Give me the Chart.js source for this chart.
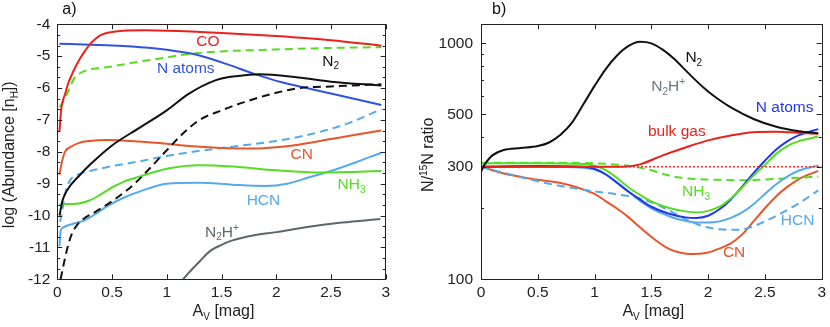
<!DOCTYPE html>
<html>
<head>
<meta charset="utf-8">
<script src="https://cdn.jsdelivr.net/npm/chart.js@4.4.0/dist/chart.umd.min.js"></script>
<style>
    html, body { margin: 0; padding: 0; background: #fff; }
    #wrap { position: relative; width: 830px; height: 327px; }
    canvas { position: absolute; top: 0; }
    #chartA { left: 0; }
    #chartB { left: 415px; }
</style>
</head>
<body>
<div id="wrap">
    <canvas id="chartA" width="415" height="327"></canvas>
    <canvas id="chartB" width="415" height="327"></canvas>
</div>
<script>
const FONT = '"Liberation Sans", Arial, sans-serif';
const TICK_SIZE = 15.5;
const LABEL_SIZE = 15.5;
const TITLE_SIZE = 16;

// ---- panel a) log abundance vs A_V ----
const avCO = [0.02, 0.035, 0.05, 0.07, 0.1, 0.15, 0.2, 0.25, 0.3, 0.35, 0.4, 0.5, 0.6, 0.8, 1.0, 1.5, 2.0, 2.5, 2.96];
const logCO = [-7.35, -6.7, -6.4, -6.2, -5.85, -5.45, -5.12, -4.85, -4.62, -4.45, -4.33, -4.24, -4.2, -4.19, -4.2, -4.27, -4.37, -4.5, -4.67];

const avNatA = [0.02, 0.3, 0.6, 0.9, 1.1, 1.3, 1.55, 1.82, 2.05, 2.28, 2.6, 2.96];
const logNatA = [-4.61, -4.64, -4.68, -4.76, -4.85, -4.98, -5.25, -5.58, -5.82, -6.0, -6.25, -6.53];

const avNH3iceA = [0.02, 0.05, 0.1, 0.15, 0.2, 0.3, 0.5, 0.75, 1.0, 1.2, 1.5, 2.0, 2.5, 2.96];
const logNH3iceA = [-6.6, -6.45, -6.1, -5.72, -5.55, -5.42, -5.32, -5.17, -5.04, -4.93, -4.85, -4.79, -4.74, -4.72];

const avN2A = [0.02, 0.05, 0.1, 0.2, 0.3, 0.5, 0.75, 1.0, 1.2, 1.45, 1.65, 1.85, 2.2, 2.5, 2.96];
const logN2A = [-10.0, -9.5, -9.15, -8.75, -8.4, -7.8, -7.25, -6.7, -6.18, -5.75, -5.62, -5.57, -5.67, -5.8, -5.92];

const avN2iceA = [0.03, 0.06, 0.09, 0.13, 0.18, 0.25, 0.33, 0.5, 0.6, 0.7, 0.85, 1.0, 1.15, 1.3, 1.5, 1.7, 2.0, 2.22, 2.5, 2.96];
const logN2iceA = [-12.0, -11.5, -11.05, -10.6, -10.3, -10.08, -9.92, -9.55, -9.3, -9.02, -8.5, -7.95, -7.42, -7.0, -6.7, -6.45, -6.15, -6.0, -5.95, -5.88];

const avCNA = [0.02, 0.04, 0.07, 0.12, 0.2, 0.3, 0.45, 0.75, 1.0, 1.2, 1.5, 1.8, 2.0, 2.2, 2.5, 2.75, 2.96];
const logCNA = [-8.72, -8.35, -8.0, -7.85, -7.72, -7.66, -7.63, -7.68, -7.75, -7.82, -7.88, -7.9, -7.86, -7.78, -7.6, -7.45, -7.33];

const avHCNiceA = [0.025, 0.05, 0.08, 0.12, 0.2, 0.3, 0.5, 0.75, 1.0, 1.3, 1.6, 2.0, 2.22, 2.5, 2.7, 2.96];
const logHCNiceA = [-10.2, -9.75, -9.2, -8.88, -8.7, -8.6, -8.45, -8.3, -8.13, -7.97, -7.84, -7.66, -7.52, -7.28, -7.05, -6.66];

const avNH3A = [0.02, 0.1, 0.2, 0.3, 0.4, 0.5, 0.6, 0.75, 1.0, 1.3, 1.6, 2.0, 2.4, 2.7, 2.96];
const logNH3A = [-9.65, -9.64, -9.62, -9.52, -9.33, -9.12, -8.95, -8.78, -8.53, -8.42, -8.46, -8.58, -8.65, -8.63, -8.6];

const avHCNA = [0.02, 0.03, 0.05, 0.15, 0.25, 0.35, 0.45, 0.6, 0.75, 1.0, 1.3, 1.6, 1.9, 2.1, 2.3, 2.5, 2.75, 2.96];
const logHCNA = [-10.97, -10.5, -10.38, -10.25, -10.15, -9.95, -9.72, -9.45, -9.25, -9.0, -8.97, -9.03, -9.07, -9.0, -8.8, -8.6, -8.3, -8.03];

const avN2HpA = [1.12, 1.2, 1.3, 1.4, 1.5, 1.6, 1.8, 2.0, 2.3, 2.6, 2.95];
const logN2HpA = [-12.12, -11.8, -11.44, -11.1, -10.92, -10.78, -10.62, -10.52, -10.35, -10.22, -10.11];

// ---- panel b) N/15N ratio vs A_V ----
const avN2B = [0, 0.02, 0.05, 0.1, 0.2, 0.35, 0.5, 0.6, 0.7, 0.8, 0.9, 1.0, 1.1, 1.2, 1.3, 1.4, 1.5, 1.6, 1.7, 1.8, 1.9, 2.0, 2.1, 2.2, 2.4, 2.6, 2.8, 2.97];
const ratioN2B = [285, 300, 315, 335, 353, 360, 367, 380, 410, 460, 550, 660, 780, 890, 975, 1015, 1000, 940, 860, 770, 690, 625, 575, 535, 478, 443, 424, 416];

const avBulk = [0, 0.5, 1.0, 1.25, 1.4, 1.6, 1.8, 2.0, 2.2, 2.4, 2.6, 2.8, 2.97];
const ratioBulk = [300, 300, 300, 300, 307, 335, 362, 388, 407, 420, 422, 418, 413];

const avRef = [0, 3];
const ratioRef = [300, 300];

const avIso = [0, 0.5, 0.9, 1.0, 1.1, 1.2, 1.3, 1.4, 1.5, 1.65, 1.8, 1.9, 2.0, 2.1, 2.2, 2.3, 2.4, 2.5, 2.6, 2.7, 2.8, 2.97];
const ratioNatB = [300, 302, 300, 294, 278, 256, 235, 218, 203, 190, 183, 182, 186, 198, 218, 247, 282, 318, 355, 385, 408, 433];
const ratioNH3B = [310, 310, 308, 303, 290, 268, 245, 228, 214, 201, 194, 192, 195, 203, 220, 245, 275, 305, 340, 368, 385, 403];

const avHCNB = [0, 0.5, 0.9, 1.0, 1.1, 1.2, 1.3, 1.4, 1.5, 1.6, 1.7, 1.8, 1.9, 2.0, 2.1, 2.2, 2.3, 2.4, 2.5, 2.6, 2.7, 2.8, 2.97];
const ratioHCNB = [300, 300, 297, 292, 278, 257, 235, 215, 200, 190, 182, 177, 174, 174, 176, 182, 192, 208, 230, 253, 273, 289, 304];

const avHCNiceB = [0, 0.1, 0.25, 0.5, 0.75, 1.0, 1.2, 1.4, 1.6, 1.8, 1.95, 2.1, 2.27, 2.4, 2.5, 2.62, 2.8, 2.97];
const ratioHCNiceB = [300, 291, 279, 260, 246, 236, 229, 220, 202, 180, 168, 163, 162, 168, 176, 188, 210, 238];

const avCNB = [0, 0.1, 0.2, 0.35, 0.5, 0.7, 0.85, 1.0, 1.1, 1.2, 1.3, 1.42, 1.55, 1.65, 1.75, 1.86, 2.0, 2.1, 2.2, 2.3, 2.4, 2.5, 2.6, 2.7, 2.8, 2.97];
const ratioCNB = [300, 290, 281, 272, 264, 256, 245, 230, 214, 199, 183, 163, 145, 135, 130, 128, 130, 135, 142, 155, 176, 200, 225, 247, 266, 288];

const avNH3iceB = [0, 0.5, 1.0, 1.2, 1.35, 1.5, 1.62, 1.75, 1.9, 2.1, 2.3, 2.5, 2.7, 2.97];
const ratioNH3iceB = [312, 312, 310, 306, 300, 290, 278, 270, 266, 264, 263, 265, 268, 272];

// ---- ticks ----
const xTicks = [0, 0.5, 1, 1.5, 2, 2.5, 3];
const yTicksA = [-12, -11, -10, -9, -8, -7, -6, -5, -4];
const yTicksB = [100, 200, 300, 400, 500, 600, 700, 800, 900, 1000];
const yLabelsB = [100, 300, 500, 1000];

// colours
const RED = '#e8231c', BLUE_A = '#3152e0', BLUE_B = '#2236ec', GREEN = '#55dd22',
      LBLUE = '#55aaee', ORANGE = '#e8552a', GREY = '#5d666c', BLACK = '#111111';

// in-plot labels (anchored in data units, left edge / vertical centre)
const labelsA = [
    { text: 'CO', x: 1.27, y: -4.55, color: RED },
    { text: 'N atoms', x: 0.91, y: -5.4, color: BLUE_A },
    { text: 'N_2', x: 2.42, y: -5.17, color: BLACK },
    { text: 'CN', x: 2.13, y: -8.1, color: ORANGE },
    { text: 'NH_3', x: 2.56, y: -9.04, color: GREEN },
    { text: 'HCN', x: 1.73, y: -9.54, color: LBLUE },
    { text: 'N_2H^+', x: 1.35, y: -10.54, color: GREY }
];
const labelsB = [
    { text: 'N_2', x: 1.80, y: 867, color: BLACK },
    { text: 'N_2H^+', x: 1.50, y: 653, color: '#6b7780' },
    { text: 'N atoms', x: 2.42, y: 532, color: BLUE_B },
    { text: 'bulk gas', x: 1.47, y: 421, color: RED },
    { text: 'NH_3', x: 1.77, y: 234, color: GREEN },
    { text: 'HCN', x: 2.64, y: 177, color: LBLUE },
    { text: 'CN', x: 2.13, y: 129, color: ORANGE }
];

function pts(xs, ys) {
    return xs.map((x, i) => ({ x: x, y: ys[i] }));
}

function line(xs, ys, color, dash, width) {
    return {
        data: pts(xs, ys),
        borderColor: color,
        borderDash: dash || [],
        borderWidth: width || 2,
        pointRadius: 0,
        fill: false,
        cubicInterpolationMode: 'monotone'
    };
}

// split "N_2H^+" / "N/^{15}N" into normal / sub / sup pieces
function parseRich(str) {
    const parts = [];
    let i = 0;
    while (i < str.length) {
        const c = str[i];
        if (c === '_' || c === '^') {
            let t;
            if (str[i + 1] === '{') {
                const end = str.indexOf('}', i);
                t = str.slice(i + 2, end);
                i = end + 1;
            } else {
                t = str[i + 1];
                i += 2;
            }
            parts.push({ t: t, mode: c === '_' ? 'sub' : 'sup' });
        } else {
            if (parts.length && parts[parts.length - 1].mode === 'n') parts[parts.length - 1].t += c;
            else parts.push({ t: c, mode: 'n' });
            i++;
        }
    }
    return parts;
}

function richWidth(ctx, parts, size) {
    let w = 0;
    parts.forEach(p => {
        ctx.font = (p.mode === 'n' ? size : Math.round(size * 0.62)) + 'px ' + FONT;
        w += ctx.measureText(p.t).width;
    });
    return w;
}

function drawRich(ctx, str, x, y, size, color, align) {
    const parts = parseRich(str);
    let cx = align === 'center' ? x - richWidth(ctx, parts, size) / 2 : x;
    ctx.fillStyle = color;
    ctx.textBaseline = 'middle';
    ctx.textAlign = 'left';
    parts.forEach(p => {
        let dy = 0, s = size;
        if (p.mode === 'sub') { s = Math.round(size * 0.62); dy = size * 0.32; }
        if (p.mode === 'sup') { s = Math.round(size * 0.62); dy = -size * 0.3; }
        ctx.font = s + 'px ' + FONT;
        ctx.fillText(p.t, cx, y + dy);
        cx += ctx.measureText(p.t).width;
    });
}

// frame, inward ticks, labels and axis titles
const framePlugin = {
    id: 'framePlugin',
    afterDatasetsDraw(chart, args, opts) {
        const { ctx, chartArea: a, scales } = chart;
        ctx.save();
        ctx.strokeStyle = '#222';
        ctx.lineWidth = 1;
        const seg = (x1, y1, x2, y2) => {
            ctx.beginPath();
            ctx.moveTo(x1, y1);
            ctx.lineTo(x2, y2);
            ctx.stroke();
        };
        opts.xTicks.forEach(v => {
            const x = Math.round(scales.x.getPixelForValue(v)) + 0.5;
            seg(x, a.bottom, x, a.bottom - 5);
            seg(x, a.top, x, a.top + 5);
        });
        opts.yMajor.forEach(v => {
            const y = Math.round(scales.y.getPixelForValue(v)) + 0.5;
            seg(a.left, y, a.left + 5, y);
            seg(a.right, y, a.right - 5, y);
        });
        opts.yMinor.forEach(v => {
            const y = Math.round(scales.y.getPixelForValue(v)) + 0.5;
            seg(a.left, y, a.left + 3, y);
            seg(a.right, y, a.right - 3, y);
        });
        ctx.strokeRect(Math.round(a.left) + 0.5, Math.round(a.top) + 0.5, Math.round(a.width), Math.round(a.height));

        // curve labels
        opts.labels.forEach(l => {
            drawRich(ctx, l.text, scales.x.getPixelForValue(l.x), scales.y.getPixelForValue(l.y), LABEL_SIZE, l.color, 'left');
        });

        // panel tag + axis titles
        drawRich(ctx, opts.tag, a.left + opts.tagDx, 10, TITLE_SIZE, '#111', 'left');
        drawRich(ctx, 'A_V [mag]', (a.left + a.right) / 2 + 2, 312, TITLE_SIZE, '#222', 'center');
        ctx.translate(opts.yTitleX, (a.top + a.bottom) / 2 + 3);
        ctx.rotate(-Math.PI / 2);
        drawRich(ctx, opts.yTitle, 0, 0, TITLE_SIZE, '#222', 'center');
        ctx.restore();
    }
};

function buildChart(id, datasets, yScale, yWidth, padRight, frame) {
    return new Chart(document.getElementById(id), {
        type: 'line',
        data: { datasets: datasets },
        options: {
            responsive: false,
            animation: false,
            layout: { padding: { top: 24.3, right: padRight, left: 0, bottom: 0 } },
            plugins: {
                legend: { display: false },
                tooltip: { enabled: false },
                framePlugin: frame
            },
            scales: {
                x: {
                    type: 'linear',
                    min: 0,
                    max: 3,
                    grid: { display: false, drawTicks: false },
                    border: { display: false },
                    afterBuildTicks: s => { s.ticks = xTicks.map(v => ({ value: v })); },
                    ticks: {
                        color: '#222',
                        font: { family: FONT, size: TICK_SIZE },
                        padding: 4,
                        maxRotation: 0,
                        autoSkip: false,
                        callback: v => String(v)
                    },
                    afterFit: s => { s.height = 47.7; }
                },
                y: Object.assign(yScale, {
                    grid: { display: false, drawTicks: false },
                    border: { display: false },
                    afterFit: s => { s.width = yWidth; }
                })
            }
        },
        plugins: [framePlugin]
    });
}

// minor tick positions for panel a (thirds of a unit)
const yMinorA = [];
for (let v = -12; v < -4; v++) {
    yMinorA.push(v + 1 / 3, v + 2 / 3);
}

buildChart('chartA', [
    line(avN2A, logN2A, BLACK),
    line(avN2iceA, logN2iceA, BLACK, [8, 5]),
    line(avCO, logCO, RED),
    line(avNatA, logNatA, BLUE_A),
    line(avNH3iceA, logNH3iceA, GREEN, [8, 5]),
    line(avCNA, logCNA, ORANGE),
    line(avHCNiceA, logHCNiceA, LBLUE, [8, 5]),
    line(avNH3A, logNH3A, GREEN),
    line(avHCNA, logHCNA, LBLUE),
    line(avN2HpA, logN2HpA, GREY)
], {
    type: 'linear',
    min: -12,
    max: -4,
    afterBuildTicks: s => { s.ticks = yTicksA.map(v => ({ value: v })); },
    ticks: { color: '#222', font: { family: FONT, size: TICK_SIZE }, padding: 7, callback: v => String(v) }
}, 57.3, 29.3, {
    xTicks: xTicks,
    yMajor: yTicksA,
    yMinor: yMinorA,
    labels: labelsA,
    tag: 'a)',
    tagDx: 5,
    yTitle: 'log (Abundance [n_H])',
    yTitleX: 10
});

buildChart('chartB', [
    line(avN2B, ratioN2B, BLACK),
    line(avBulk, ratioBulk, RED),
    line(avRef, ratioRef, '#ee3333', [2, 2], 1.5),
    line(avIso, ratioNH3B, GREEN),
    line(avIso, ratioNatB, BLUE_B),
    line(avHCNB, ratioHCNB, LBLUE),
    line(avNH3iceB, ratioNH3iceB, GREEN, [8, 5]),
    line(avHCNiceB, ratioHCNiceB, LBLUE, [8, 5]),
    line(avCNB, ratioCNB, ORANGE)
], {
    type: 'logarithmic',
    min: 100,
    max: 1204,
    afterBuildTicks: s => { s.ticks = yTicksB.map(v => ({ value: v })); },
    ticks: {
        color: '#222',
        font: { family: FONT, size: TICK_SIZE },
        padding: 8,
        autoSkip: false,
        callback: v => yLabelsB.includes(v) ? String(v) : ''
    }
}, 66, 5, {
    xTicks: xTicks,
    yMajor: yLabelsB,
    yMinor: yTicksB.filter(v => !yLabelsB.includes(v)),
    labels: labelsB,
    tag: 'b)',
    tagDx: 11,
    yTitle: 'N/^{15}N ratio',
    yTitleX: 14
});
</script>
</body>
</html>
